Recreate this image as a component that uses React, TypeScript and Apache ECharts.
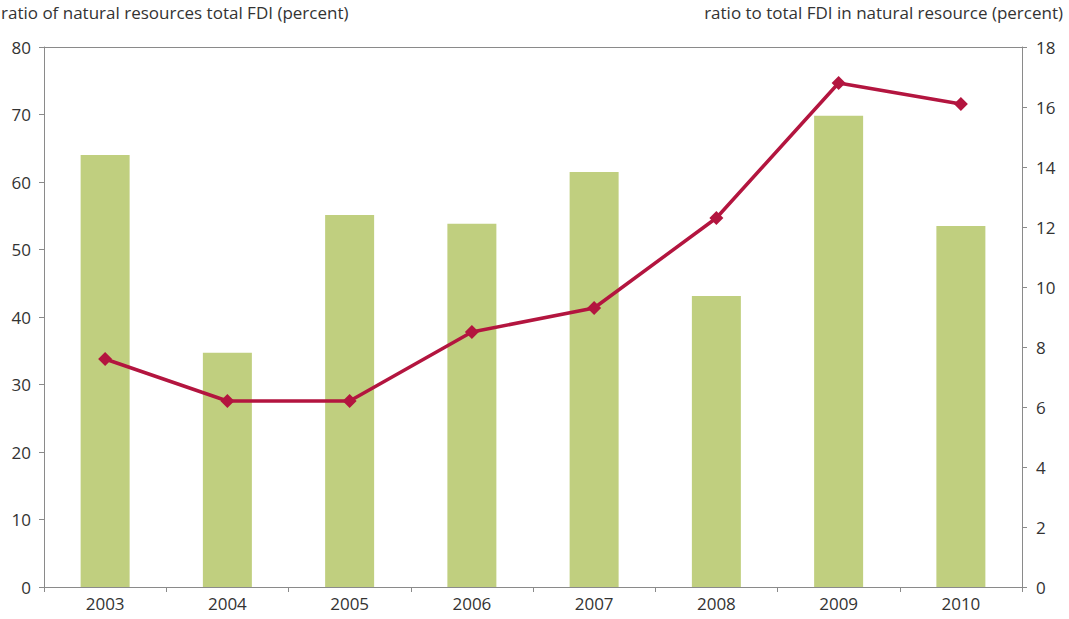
import React, { useEffect, useRef } from "react";
import * as echarts from "echarts";

const years = ["2003", "2004", "2005", "2006", "2007", "2008", "2009", "2010"];
const sharePct = [64.0, 34.7, 55.1, 53.8, 61.5, 43.1, 69.8, 53.5];
const ratioPct = [7.6, 6.2, 6.2, 8.5, 9.3, 12.3, 16.8, 16.1];
const leftTitle = "ratio of natural resources total FDI (percent)";
const rightTitle = "ratio to total FDI in natural resource (percent)";

export default function App() {
  const ref = useRef<HTMLDivElement>(null);
  useEffect(() => {
    if (!ref.current) return;
    const chart = echarts.init(ref.current, null, { renderer: "svg" });
    const font = "'Open Sans', 'DejaVu Sans', sans-serif";
    const axisColor = "#8a8a8a";
    chart.setOption({
      animation: false,
      backgroundColor: "#ffffff",
      textStyle: { fontFamily: font },
      grid: { left: 44, right: 47, top: 47, bottom: 32, show: false },
      graphic: [
        {
          type: "text",
          left: 1,
          top: 4,
          style: { text: leftTitle, fontSize: 17, fill: "#333", fontFamily: font },
        },
        {
          type: "text",
          right: 6,
          top: 4,
          style: { text: rightTitle, fontSize: 17, fill: "#333", fontFamily: font },
        },
        {
          type: "line",
          shape: { x1: 44, y1: 47.5, x2: 1022, y2: 47.5 },
          style: { stroke: axisColor, lineWidth: 1 },
        },
      ],
      xAxis: {
        type: "category",
        data: years,
        axisLine: { lineStyle: { color: axisColor } },
        axisTick: { show: true, length: 5, lineStyle: { color: axisColor } },
        axisLabel: { color: "#333", fontSize: 17, margin: 8, fontFamily: font },
      },
      yAxis: [
        {
          type: "value",
          min: 0,
          max: 80,
          interval: 10,
          position: "left",
          axisLine: { show: true, lineStyle: { color: axisColor } },
          axisTick: { show: true, length: 5, lineStyle: { color: axisColor } },
          axisLabel: { color: "#333", fontSize: 17, margin: 13, fontFamily: font },
          splitLine: { show: false },
        },
        {
          type: "value",
          min: 0,
          max: 18,
          interval: 2,
          position: "right",
          axisLine: { show: true, lineStyle: { color: axisColor } },
          axisTick: { show: true, length: 5, lineStyle: { color: axisColor } },
          axisLabel: { color: "#333", fontSize: 17, margin: 14, fontFamily: font },
          splitLine: { show: false },
        },
      ],
      series: [
        {
          type: "bar",
          data: sharePct,
          yAxisIndex: 0,
          barWidth: 49,
          itemStyle: { color: "#c0cf7f" },
        },
        {
          type: "line",
          data: ratioPct,
          yAxisIndex: 1,
          symbol: "diamond",
          symbolSize: 14,
          lineStyle: { color: "#b3153f", width: 3.5 },
          itemStyle: { color: "#b3153f" },
        },
      ],
    });
    return () => chart.dispose();
  }, []);
  return (
    <div
      ref={ref}
      style={{ position: "absolute", left: 0, top: 0, width: 1069, height: 619 }}
    />
  );
}
